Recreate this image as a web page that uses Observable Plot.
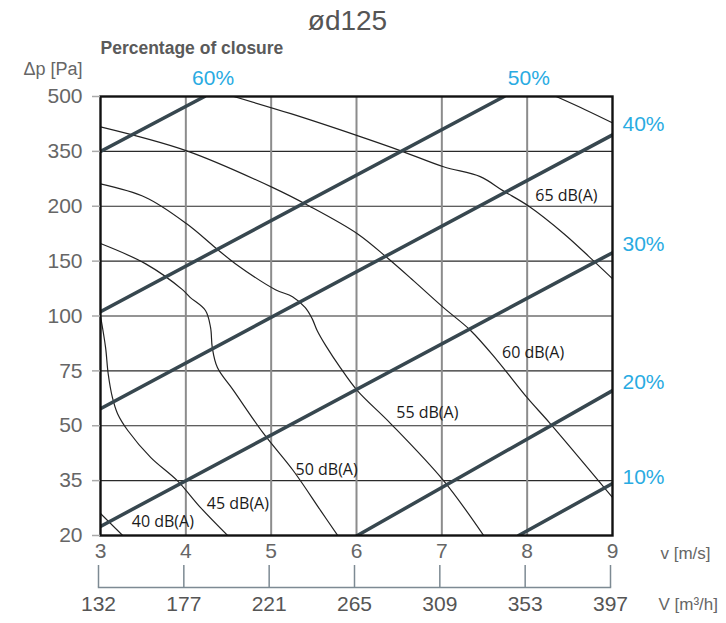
<!DOCTYPE html>
<html><head><meta charset="utf-8">
<script src="https://cdn.jsdelivr.net/npm/d3@7"></script>
<script src="https://cdn.jsdelivr.net/npm/@observablehq/plot@0.6"></script>
<style>
body{margin:0;background:#fff;}
#chart svg{display:block;}
</style></head><body><div id="chart"></div>
<script>
// Axis categories / ticks
const pressureLevels = [20, 35, 50, 75, 100, 150, 200, 350, 500];
const velocityTicks = [3, 4, 5, 6, 7, 8, 9];
const flowLabels = [132, 177, 221, 265, 309, 353, 397];

// Sound level curves [v m/s, Δp Pa]
const db40 = [[3.00, 26], [3.26, 20]];
const db45 = [[3.00, 100], [3.06, 85.5], [3.09, 73.7], [3.14, 62.8], [3.20, 55.5], [3.32, 48.7], [3.59, 41.3], [3.90, 35], [4.17, 27.7], [4.49, 20]];
const db50 = [[3.00, 166], [3.53, 147.5], [3.96, 124], [4.05, 117], [4.23, 105], [4.29, 94.7], [4.31, 85.6], [4.37, 76.5], [4.56, 66], [4.91, 47.9], [5.26, 37.7], [5.58, 26.8], [5.78, 20]];
const db55 = [[3.00, 261], [3.53, 224], [4.01, 184], [4.35, 162], [4.58, 147.7], [5.05, 124], [5.25, 117.6], [5.40, 107.6], [5.48, 98.8], [5.54, 93.3], [5.64, 86.5], [5.81, 76.5], [6.01, 66], [6.40, 51], [7.02, 35], [7.49, 20]];
const db60 = [[3.00, 417], [4.01, 351.5], [5.02, 251], [5.44, 201.5], [6.01, 175], [6.36, 153], [6.67, 132], [7.02, 107.6], [7.34, 93.3], [7.65, 79.7], [8.00, 62.8], [8.27, 51], [9.00, 30.4]];
const db65 = [[4.56, 500], [5.23, 453], [6.01, 393], [6.52, 351.5], [7.02, 308], [7.45, 281], [7.72, 242], [8.02, 200], [8.43, 175], [8.74, 153], [9.00, 134]];
const db70 = [[8.34, 500], [8.68, 464], [9.00, 428]];

// Percentage of closure lines [v, Δp]
const closure60 = [[3.00, 350], [4.22, 500]];
const closure50 = [[3.00, 104], [7.73, 500]];
const closure40 = [[3.00, 57.8], [9.00, 395]];
const closure30 = [[3.00, 22.5], [9.00, 157.7]];
const closure20 = [[6.01, 20], [9.00, 66]];
const closure10 = [[7.90, 20], [9.00, 34.2]];

// Labels
const dbLabels = ["40 dB(A)", "45 dB(A)", "50 dB(A)", "55 dB(A)", "60 dB(A)", "65 dB(A)"];
const dbLabelV = [3.73, 4.61, 5.65, 6.83, 8.07, 8.46];
const dbLabelPa = [23.8, 28.7, 38, 56, 83, 229];
const closureTopLabels = ["60%", "50%"];
const closureTopV = [4.32, 8.02];
const closureRightLabels = ["40%", "30%", "20%", "10%"];
const closureRightPa = [423, 165, 69.7, 36];

const font = "'Liberation Sans', Arial, sans-serif";
const cyan = "#29abe2";
const slate = "#37474f";

const curves = [db40, db45, db50, db55, db60, db65, db70];
const closures = [closure60, closure50, closure40, closure30, closure20, closure10];

const chart = Plot.plot({
  width: 726,
  height: 623,
  marginTop: 96,
  marginBottom: 88,
  marginLeft: 100,
  marginRight: 114,
  style: {fontFamily: font, background: "#fff", color: "#666"},
  x: {type: "linear", domain: [3, 9]},
  y: {type: "linear", domain: pressureLevels},
  marks: [
    Plot.ruleY(pressureLevels.slice(1, -1), {stroke: "#2a2a2a", strokeWidth: 1.1}),
    Plot.ruleX(velocityTicks.slice(1, -1), {stroke: "#8c8c8c", strokeWidth: 2}),
    ...curves.map(c => Plot.line(c, {x: d => d[0], y: d => d[1], curve: "catmull-rom", stroke: "#222", strokeWidth: 1.2, clip: true})),
    ...closures.map(c => Plot.line(c, {x: d => d[0], y: d => d[1], stroke: slate, strokeWidth: 3.5, clip: true})),
    Plot.frame({stroke: "#111", strokeWidth: 2.4}),
    Plot.axisY(pressureLevels, {tickSize: 8, tickPadding: 10, fontSize: 21, stroke: "#aaa", strokeWidth: 1.5, fill: "#666", label: null, tickFormat: d => String(d)}),
    Plot.axisX(velocityTicks, {tickSize: 0, tickPadding: 8, fontSize: 21, fill: "#666", label: null, tickFormat: d => String(d)}),
    Plot.axisX(velocityTicks, {tickSize: 22, tickPadding: 9, dy: 30, dx: -2, fontSize: 21, fill: "#555", stroke: "#7d8a93", strokeWidth: 1.5, label: null, tickFormat: d => String(flowLabels[velocityTicks.indexOf(d)])}),
    Plot.frame({anchor: "bottom", dy: 52, dx: -2, stroke: "#7d8a93", strokeWidth: 1.5}),
    Plot.text(dbLabels, {x: (d, i) => dbLabelV[i], y: (d, i) => dbLabelPa[i], text: d => d, fontSize: 16, fill: "#1a1a1a", fontFamily: "'Open Sans', sans-serif"}),
    Plot.text(closureTopLabels, {x: (d, i) => closureTopV[i], frameAnchor: "top", lineAnchor: "middle", dy: -18, text: d => d, fontSize: 21, fill: cyan}),
    Plot.text(closureRightLabels, {y: (d, i) => closureRightPa[i], frameAnchor: "right", lineAnchor: "middle", dx: 10, textAnchor: "start", text: d => d, fontSize: 21, fill: cyan}),
    Plot.text(["ød125"], {frameAnchor: "top", lineAnchor: "middle", dx: -9, dy: -75, text: d => d, fontSize: 28, fill: "#555"}),
    Plot.text(["Percentage of closure"], {frameAnchor: "top-left", lineAnchor: "middle", textAnchor: "start", dy: -48, text: d => d, fontSize: 17.5, fontWeight: "bold", fill: "#5a5a5a"}),
    Plot.text(["Δp [Pa]"], {frameAnchor: "top-left", lineAnchor: "middle", textAnchor: "start", dx: -77, dy: -27, text: d => d, fontSize: 18, fill: "#666"}),
    Plot.text(["v [m/s]"], {frameAnchor: "bottom-right", lineAnchor: "middle", textAnchor: "start", dx: 48, dy: 18, text: d => d, fontSize: 17, fill: "#666"}),
    Plot.text(["V [m³/h]"], {frameAnchor: "bottom-right", lineAnchor: "middle", textAnchor: "start", dx: 46, dy: 69, text: d => d, fontSize: 17, fill: "#666"})
  ]
});
document.getElementById("chart").appendChild(chart);
</script>
</body></html>
